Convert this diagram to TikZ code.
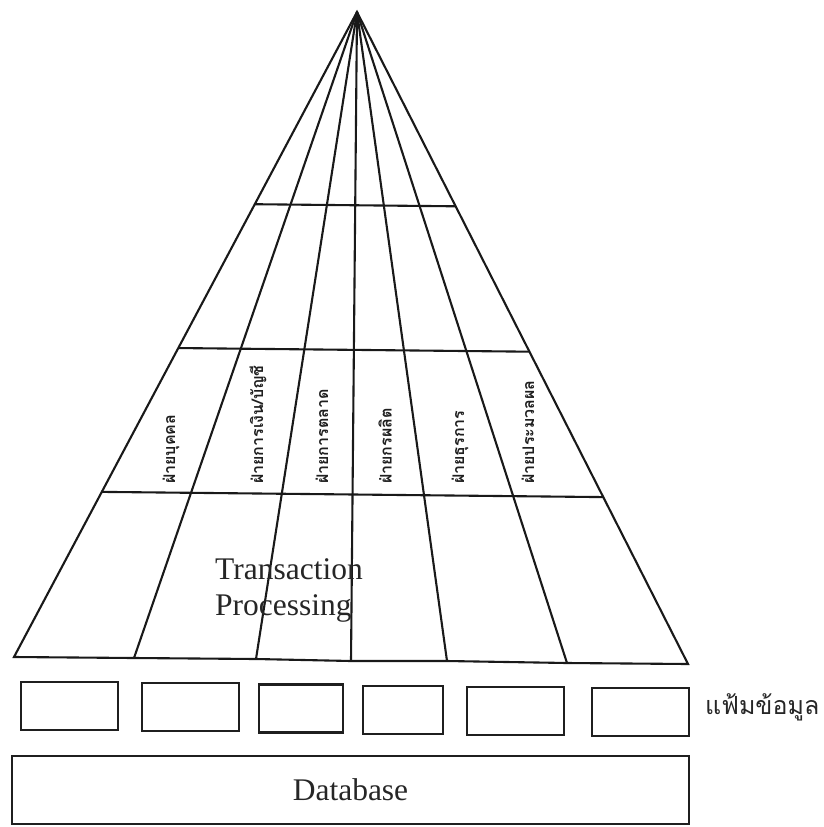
\documentclass[tikz,border=0pt]{standalone}
\usepackage{fontspec}
\setmainfont{Liberation Serif}
\newfontfamily\thaifont[Script=Thai]{Loma}
\usetikzlibrary{calc}
\begin{document}
\begin{tikzpicture}[x=1pt,y=-1pt,
  edge/.style={line width=2.1pt,draw=black!90},
  filebox/.style={draw=black!88,line width=2.1pt,inner sep=0pt},
  dept/.style={font=\thaifont\bfseries\fontsize{16}{16}\selectfont,rotate=90,anchor=west,inner sep=0pt,text=black!88},
  latin/.style={font=\fontsize{31.5}{36}\selectfont,text=black!85,inner sep=0pt}]
\useasboundingbox (0,0) rectangle (823,827);
% pyramid
\coordinate (apex) at (357,12);
\coordinate (bl) at (14,657);
\coordinate (d1) at (134,658);
\coordinate (d2) at (256,659);
\coordinate (d3) at (351,661);
\coordinate (d4) at (447,661);
\coordinate (d5) at (567,663);
\coordinate (br) at (688,664);
\draw[edge,line join=miter] (apex) -- (bl) -- (d1) -- (d2) -- (d3) -- (d4) -- (d5) -- (br) -- cycle;
\foreach \d in {d1,d2,d3,d4,d5}{\draw[edge] (apex) -- (\d);}
\foreach \t in {0.298,0.521,0.744}{\draw[edge] ($(apex)!\t!(bl)$) -- ($(apex)!\t!(br)$);}
% department labels
\node[dept] (l1) at (171,484) {ฝ่ายบุคคล};
\node[dept] (l2) at (258,484) {ฝ่ายการเงิน/บัญชี};
\node[dept] (l3) at (322,484) {ฝ่ายการตลาด};
\node[dept] (l4) at (385,484) {ฝ่ายกรผลิต};
\node[dept] (l5) at (460,484) {ฝ่ายธุรการ};
\node[dept] (l6) at (528,484) {ฝ่ายประมวลผล};
% transaction processing
\node[latin,anchor=base west] (tp1) at (215,579) {Transaction};
\node[latin,anchor=base west] (tp2) at (215,615) {Processing};
% file boxes
\node[filebox,minimum width=97pt,minimum height=48pt] (f1) at (69.5,706) {};
\node[filebox,minimum width=97pt,minimum height=48pt] (f2) at (190.5,707) {};
\node[filebox,minimum width=84pt,minimum height=48pt] (f3) at (301,708.5) {};
\node[filebox,minimum width=80pt,minimum height=48pt] (f4) at (403,710) {};
\node[filebox,minimum width=97pt,minimum height=48pt] (f5) at (515.5,711) {};
\node[filebox,minimum width=97pt,minimum height=48pt] (f6) at (640.5,712) {};
\node[font=\thaifont\fontsize{25}{25}\selectfont,text=black!85,anchor=west,inner sep=0pt] (files) at (705,707) {แฟ้มข้อมูล};
% database
\node[filebox,minimum width=677pt,minimum height=68pt] (db) at (350.5,790) {};
\node[latin] (dbt) at (db.center) {Database};
\end{tikzpicture}
\end{document}
